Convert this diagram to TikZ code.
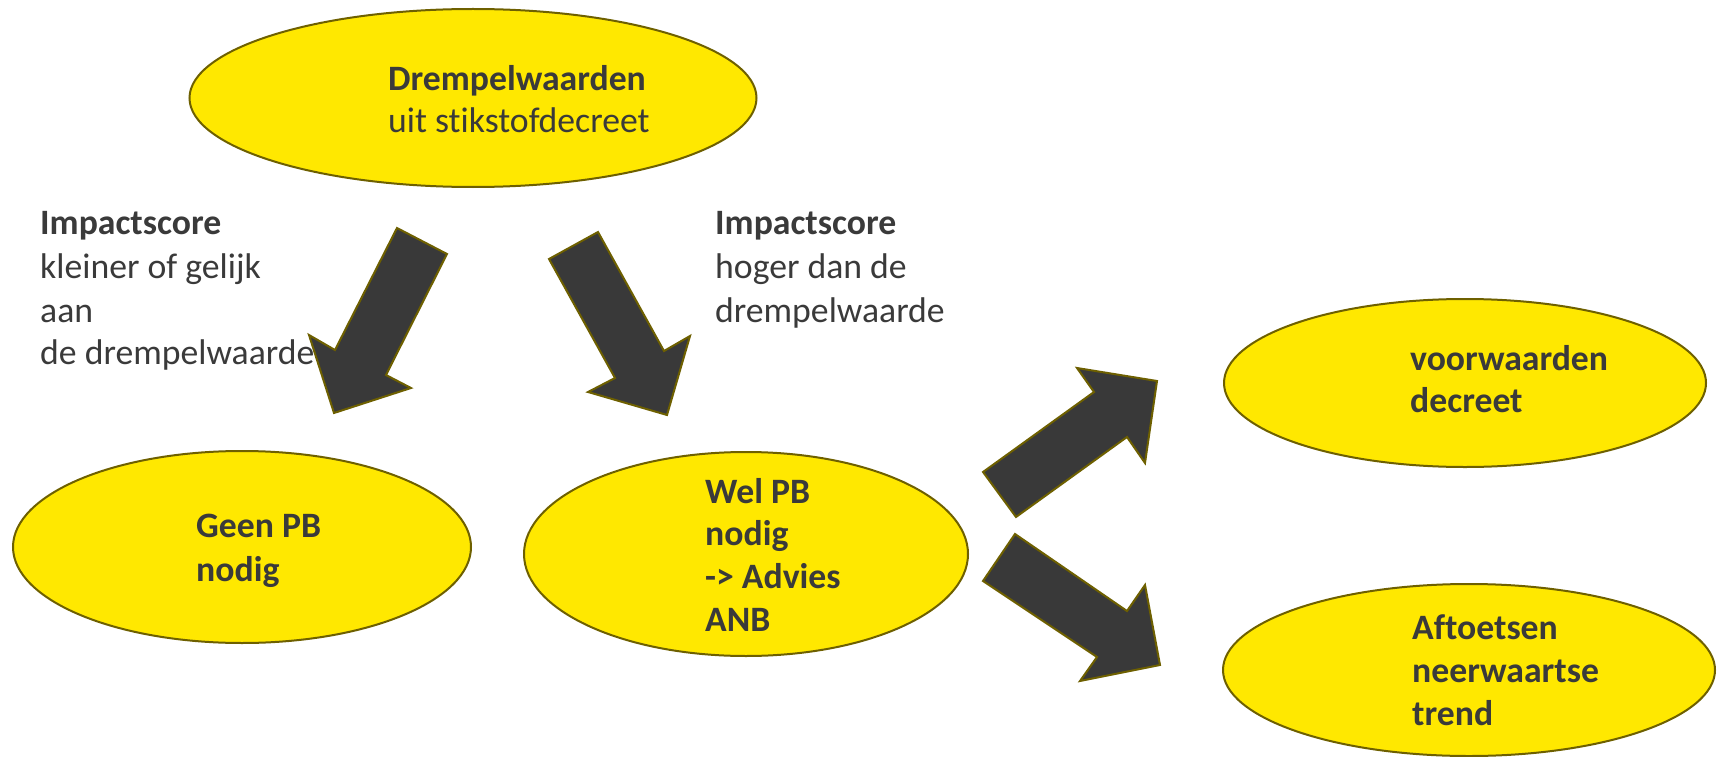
\documentclass[tikz,border=0pt]{standalone}
\usepackage{fontspec}
\setmainfont{Carlito}[Ligatures=NoCommon]
\usetikzlibrary{shapes.geometric}
\definecolor{yel}{HTML}{FFE800}
\definecolor{olv}{HTML}{6E6000}
\definecolor{arr}{HTML}{393939}
\definecolor{txt}{HTML}{3A3A3A}
\tikzset{
  bubble/.style={ellipse, draw=olv, fill=yel, line width=2pt, inner sep=0pt},
  blockarrow/.style={draw=olv, fill=arr, line width=2pt, line join=miter},
  lbl/.style={anchor=base west, inner sep=0pt, text=txt, font=\fontsize{35.7}{43}\selectfont},
  blbl/.style={lbl, font=\fontsize{35.7}{43}\selectfont\bfseries}
}
\begin{document}
\begin{tikzpicture}[x=1pt,y=-1pt]
\useasboundingbox (0,0) rectangle (1721,757);
% ellipses
\node[bubble, minimum width=567pt, minimum height=178pt] (top) at (473,98) {};
\node[bubble, minimum width=458pt, minimum height=192pt] (geen) at (242,547) {};
\node[bubble, minimum width=444pt, minimum height=204pt] (wel) at (746,554) {};
\node[bubble, minimum width=482pt, minimum height=168pt] (voor) at (1465,383) {};
\node[bubble, minimum width=492pt, minimum height=172pt] (aft) at (1469,670) {};
% block arrows
\draw[blockarrow] (397,228) -- (447,254) -- (386,375) -- (411,388) -- (334,413) -- (309,335) -- (335,350) -- cycle;
\draw[blockarrow] (598,232) -- (549,259) -- (615,378) -- (588,392) -- (667,415) -- (690,336) -- (664,351) -- cycle;
\draw[blockarrow] (983,472) -- (1016,517) -- (1127,437) -- (1145,463) -- (1157,381) -- (1077,368) -- (1094,392) -- cycle;
\draw[blockarrow] (1015,534) -- (983,581) -- (1097,657) -- (1080,681) -- (1160,665) -- (1145,585) -- (1127,611) -- cycle;
% texts
\node[blbl] (t1) at (388,91) {Drempelwaarden};
\node[lbl] (t2) at (388,133) {uit stikstofdecreet};
\node[blbl] (l1) at (40,234) {Impactscore};
\node[lbl] (l2) at (40,278) {kleiner of gelijk};
\node[lbl] (l3) at (40,322) {aan};
\node[lbl] (l4) at (40,364) {de drempelwaarde};
\node[blbl] (r1) at (715,234) {Impactscore};
\node[lbl] (r2) at (715,278) {hoger dan de};
\node[lbl] (r3) at (715,322) {drempelwaarde};
\node[blbl] (g1) at (196,537) {Geen PB};
\node[blbl] (g2) at (196,581) {nodig};
\node[blbl] (w1) at (705,503) {Wel PB};
\node[blbl] (w2) at (705,545) {nodig};
\node[blbl] (w3) at (705,588) {-> Advies};
\node[blbl] (w4) at (705,631) {ANB};
\node[blbl] (v1) at (1410,370) {voorwaarden};
\node[blbl] (v2) at (1410,412) {decreet};
\node[blbl] (a1) at (1412,639) {Aftoetsen};
\node[blbl] (a2) at (1412,682) {neerwaartse};
\node[blbl] (a3) at (1412,725) {trend};
\end{tikzpicture}
\end{document}
